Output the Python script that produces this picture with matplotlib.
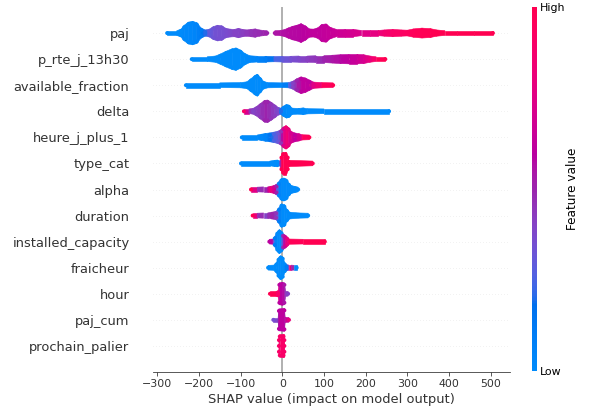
import numpy as np
import matplotlib
matplotlib.use("Agg")
import matplotlib.pyplot as plt
from matplotlib.colors import LinearSegmentedColormap
from matplotlib.collections import PolyCollection
from matplotlib.cm import ScalarMappable

# ---------------- data ----------------
features = ["paj", "p_rte_j_13h30", "available_fraction", "delta", "heure_j_plus_1",
            "type_cat", "alpha", "duration", "installed_capacity", "fraicheur",
            "hour", "paj_cum", "prochain_palier"]

# each feature: SHAP value nodes, swarm half-height (rows), mean feature value (0=low, 1=high)
paj_shap = [-276, -253, -243, -235, -225, -215, -205, -195, -185, -175, -165, -155, -145, -135,
            -125, -115, -105, -95, -85, -75, -65, -55, -45, -36, np.nan,
            -18, -5, 5, 15, 25, 35, 45, 55, 65, 75, 85, 95, 105, 115, 130, 150, 170, 190, 210,
            230, 245, 265, 285, 300, 315, 335, 355, 370, 390, 420, 460, 505]
paj_width = [0.09, 0.09, 0.15, 0.3, 0.42, 0.45, 0.4, 0.2, 0.12, 0.15, 0.25, 0.3, 0.28, 0.18,
             0.15, 0.14, 0.18, 0.14, 0.12, 0.14, 0.16, 0.12, 0.1, 0.09, np.nan,
             0.09, 0.1, 0.13, 0.2, 0.26, 0.3, 0.36, 0.28, 0.16, 0.15, 0.2, 0.33, 0.35, 0.22, 0.14,
             0.14, 0.14, 0.1, 0.1, 0.1, 0.12, 0.14, 0.12, 0.11, 0.16, 0.19, 0.17, 0.12, 0.09,
             0.09, 0.09, 0.09]
paj_value = [0.0, 0.0, 0.0, 0.02, 0.02, 0.03, 0.05, 0.1, 0.2, 0.3, 0.33, 0.35, 0.35, 0.36,
             0.38, 0.4, 0.4, 0.42, 0.44, 0.46, 0.47, 0.48, 0.5, 0.5, np.nan,
             0.55, 0.56, 0.57, 0.58, 0.58, 0.58, 0.59, 0.6, 0.61, 0.62, 0.62, 0.62, 0.63, 0.64,
             0.66, 0.68, 0.7, 0.73, 0.76, 0.8, 0.86, 0.9, 0.92, 0.94, 0.96, 0.98, 0.99, 1.0,
             1.0, 1.0, 1.0, 1.0]

p_rte_shap = [-217, -180, -160, -148, -135, -120, -111, -100, -90, -78, -60, -40, -20, 0, 20,
              40, 60, 80, 100, 120, 140, 160, 180, 195, 210, 225, 247]
p_rte_width = [0.09, 0.09, 0.12, 0.2, 0.3, 0.4, 0.43, 0.35, 0.22, 0.13, 0.11, 0.11, 0.1, 0.11,
               0.11, 0.12, 0.12, 0.13, 0.13, 0.15, 0.17, 0.18, 0.18, 0.17, 0.12, 0.09, 0.09]
p_rte_value = [0.0, 0.0, 0.0, 0.0, 0.0, 0.0, 0.0, 0.0, 0.0, 0.02, 0.05, 0.1, 0.2, 0.3, 0.35,
               0.38, 0.42, 0.45, 0.5, 0.55, 0.58, 0.62, 0.66, 0.7, 0.8, 0.95, 1.0]

avail_shap = [-231, -150, -100, -85, -75, -65, -60, -53, -45, -35, 0, 15, 25, 35, 45, 55, 65,
              75, 95, 122]
avail_width = [0.09, 0.09, 0.1, 0.13, 0.25, 0.38, 0.42, 0.3, 0.15, 0.1, 0.09, 0.1, 0.15, 0.25,
               0.32, 0.28, 0.2, 0.12, 0.1, 0.09]
avail_value = [0.0, 0.0, 0.0, 0.0, 0.0, 0.0, 0.0, 0.0, 0.0, 0.0, 0.05, 0.15, 0.4, 0.5, 0.6,
               0.62, 0.6, 0.75, 0.9, 1.0]

delta_shap = [-92, -80, -70, -62, -52, -42, -35, -27, -18, -10, -3, 3, 10, 16, 24, 40, 50, 60,
              100, 256]
delta_width = [0.09, 0.09, 0.11, 0.18, 0.3, 0.42, 0.43, 0.35, 0.25, 0.15, 0.12, 0.2, 0.26, 0.24,
               0.12, 0.11, 0.13, 0.1, 0.09, 0.09]
delta_value = [0.9, 0.5, 0.4, 0.42, 0.45, 0.5, 0.5, 0.45, 0.42, 0.38, 0.2, 0.02, 0.0, 0.0, 0.0,
               0.0, 0.0, 0.0, 0.0, 0.0]

heure_shap = [-97, -60, -50, -40, -30, -20, -10, -3, 3, 9, 15, 22, 30, 40, 48, 65]
heure_width = [0.09, 0.09, 0.12, 0.15, 0.17, 0.2, 0.24, 0.3, 0.4, 0.45, 0.38, 0.22, 0.17, 0.14,
               0.1, 0.09]
heure_value = [0.0, 0.0, 0.02, 0.05, 0.15, 0.25, 0.32, 0.45, 0.7, 0.85, 0.8, 0.7, 0.62, 0.7,
               0.9, 1.0]

type_shap = [-99, -30, -18, -12, -6, -2, 2, 8, 13, 16, 73]
type_width = [0.09, 0.09, 0.12, 0.13, 0.09, 0.3, 0.43, 0.43, 0.3, 0.12, 0.09]
type_value = [0.0, 0.0, 0.0, 0.0, 0.0, 1.0, 1.0, 1.0, 1.0, 1.0, 1.0]

alpha_shap = [-75, -60, -45, -35, -28, -20, -14, -8, -2, 4, 10, 16, 22, 30, 38]
alpha_width = [0.09, 0.09, 0.1, 0.1, 0.12, 0.15, 0.2, 0.3, 0.42, 0.44, 0.4, 0.25, 0.15, 0.12,
               0.09]
alpha_value = [1.0, 0.5, 0.45, 0.55, 0.8, 0.7, 0.5, 0.05, 0.0, 0.0, 0.0, 0.0, 0.0, 0.0, 0.0]

duration_shap = [-71, -60, -45, -35, -25, -15, -8, -2, 5, 11, 18, 40, 62]
duration_width = [0.09, 0.09, 0.1, 0.1, 0.13, 0.16, 0.3, 0.45, 0.42, 0.25, 0.13, 0.1, 0.09]
duration_value = [1.0, 0.6, 0.35, 0.45, 0.5, 0.45, 0.1, 0.0, 0.0, 0.0, 0.0, 0.0, 0.0]

capacity_shap = [-31, -22, -18, -12, -7, -2, 2, 7, 12, 16, 50, 102]
capacity_width = [0.09, 0.1, 0.2, 0.38, 0.46, 0.4, 0.3, 0.25, 0.18, 0.1, 0.09, 0.09]
capacity_value = [0.6, 0.6, 0.1, 0.0, 0.0, 0.0, 0.5, 0.65, 0.8, 0.95, 1.0, 1.0]

fraicheur_shap = [-34, -20, -14, -9, -4, 1, 6, 10, 16, 22, 28, 34.5]
fraicheur_width = [0.09, 0.1, 0.2, 0.38, 0.46, 0.42, 0.2, 0.12, 0.1, 0.1, 0.09, 0.09]
fraicheur_value = [0.0, 0.0, 0.0, 0.0, 0.0, 0.0, 0.0, 0.1, 0.7, 0.9, 0.1, 0.0]

hour_shap = [-29.5, -15, -10, -7, 0, 5, 8, 14]
hour_width = [0.09, 0.09, 0.12, 0.42, 0.44, 0.42, 0.1, 0.09]
hour_value = [1.0, 1.0, 0.9, 0.6, 0.6, 0.55, 0.45, 0.4]

paj_cum_shap = [-21.5, -10, -8, 5, 7, 16]
paj_cum_width = [0.09, 0.09, 0.42, 0.44, 0.1, 0.09]
paj_cum_value = [0.35, 0.4, 0.6, 0.62, 0.5, 0.8]

palier_shap = [-8, -6, 3, 5]
palier_width = [0.3, 0.44, 0.44, 0.3]
palier_value = [0.9, 0.9, 0.9, 0.9]

xticks = [-300, -200, -100, 0, 100, 200, 300, 400, 500]

swarms = [
    (paj_shap, paj_width, paj_value),
    (p_rte_shap, p_rte_width, p_rte_value),
    (avail_shap, avail_width, avail_value),
    (delta_shap, delta_width, delta_value),
    (heure_shap, heure_width, heure_value),
    (type_shap, type_width, type_value),
    (alpha_shap, alpha_width, alpha_value),
    (duration_shap, duration_width, duration_value),
    (capacity_shap, capacity_width, capacity_value),
    (fraicheur_shap, fraicheur_width, fraicheur_value),
    (hour_shap, hour_width, hour_value),
    (paj_cum_shap, paj_cum_width, paj_cum_value),
    (palier_shap, palier_width, palier_value),
]

# ---------------- SHAP red_blue colormap (LCH interpolation) ----------------
def lch2rgb(L, C, H):
    a = C * np.cos(H)
    b = C * np.sin(H)
    fy = (L + 16) / 116.0
    fx = fy + a / 500.0
    fz = fy - b / 200.0
    def finv(t):
        return np.where(t > 6 / 29, t ** 3, 3 * (6 / 29) ** 2 * (t - 4 / 29))
    X = 0.95047 * finv(fx)
    Y = 1.0 * finv(fy)
    Z = 1.08883 * finv(fz)
    r = 3.2406 * X - 1.5372 * Y - 0.4986 * Z
    g = -0.9689 * X + 1.8758 * Y + 0.0415 * Z
    bb = 0.0557 * X - 0.2040 * Y + 1.0570 * Z
    rgb = np.array([r, g, bb])
    rgb = np.where(rgb <= 0.0031308, 12.92 * rgb, 1.055 * np.abs(rgb) ** (1 / 2.4) - 0.055)
    return np.clip(rgb, 0, 1)

blue_lch = [54.0, 70.0, 4.6588]
red_lch = [54.0, 90.0, 0.35470565 + 2 * np.pi]
l_mid = 40.0
nsteps = 100
l_vals = list(np.linspace(blue_lch[0], l_mid, nsteps // 2)) + list(np.linspace(l_mid, red_lch[0], nsteps // 2))
c_vals = np.linspace(blue_lch[1], red_lch[1], nsteps)
h_vals = np.linspace(blue_lch[2], red_lch[2], nsteps)
cols = [lch2rgb(l, c, h) for l, c, h in zip(l_vals, c_vals, h_vals)]
red_blue = LinearSegmentedColormap.from_list("red_blue", cols)

# ---------------- figure ----------------
W, H = 594, 416
fig = plt.figure(figsize=(W / 72, H / 72), dpi=72)
ax = fig.add_axes([153 / W, 44 / H, (510 - 153) / W, (409 - 44) / H])

axis_color = "#333333"
n = len(features)
dot_r = 0.077  # dot radius in row units
for i, (xs, ws, vs) in enumerate(swarms):
    row = n - 1 - i
    ax.axhline(y=row, color="#cccccc", lw=0.5, dashes=(1, 5), zorder=-1)
    xs = np.asarray(xs, float)
    ws = np.asarray(ws, float)
    vs = np.asarray(vs, float)
    polys, colors = [], []
    for j in range(len(xs) - 1):
        if np.isnan(xs[j]) or np.isnan(xs[j + 1]):
            continue
        polys.append([(xs[j], row - ws[j]), (xs[j + 1], row - ws[j + 1]),
                      (xs[j + 1], row + ws[j + 1]), (xs[j], row + ws[j])])
        colors.append(red_blue((vs[j] + vs[j + 1]) / 2))
    pc = PolyCollection(polys, facecolors=colors, edgecolors=colors, linewidths=0.6, zorder=2)
    ax.add_collection(pc)
    # dots on the outline of the swarm (texture like individual points)
    ok = ~np.isnan(xs)
    edge = ok & (ws > 0.1)
    ex = np.concatenate([xs[edge], xs[edge]])
    ey = np.concatenate([row + ws[edge] - dot_r, row - ws[edge] + dot_r])
    ev = np.concatenate([vs[edge], vs[edge]])
    ax.scatter(ex, ey, s=16, c=ev, cmap=red_blue, vmin=0, vmax=1, linewidth=0, zorder=3)
    # rounded ends of each run
    ends = []
    for j in range(len(xs)):
        if not ok[j]:
            continue
        first = j == 0 or not ok[j - 1]
        last = j == len(xs) - 1 or not ok[j + 1]
        if first or last:
            ends.append(j)
    ends = np.array(ends)
    ax.scatter(xs[ends], np.full(len(ends), row), s=16, c=vs[ends], cmap=red_blue,
               vmin=0, vmax=1, linewidth=0, zorder=3)

ax.axvline(x=0, color="#999999", zorder=-1)

ax.set_xlim(-310, 546)
ax.set_ylim(-1, n)
ax.set_xticks(xticks)
ax.set_yticks(range(n))
ax.set_yticklabels(features[::-1], fontsize=13)
ax.xaxis.set_ticks_position("bottom")
ax.yaxis.set_ticks_position("none")
for s in ["right", "top", "left"]:
    ax.spines[s].set_visible(False)
ax.spines["bottom"].set_color(axis_color)
ax.tick_params(color=axis_color, labelcolor=axis_color)
ax.tick_params("y", length=20, width=0.5, which="major")
ax.tick_params("x", labelsize=11)
ax.set_xlabel("SHAP value (impact on model output)", fontsize=13, color="#333333")

cax = fig.add_axes([532 / W, 45 / H, 4.5 / W, 364 / H])
sm = ScalarMappable(cmap=red_blue)
sm.set_array([0, 1])
cb = fig.colorbar(sm, cax=cax, ticks=[0, 1])
cb.set_ticklabels(["Low", "High"])
cb.set_label("Feature value", size=12, labelpad=0)
cb.ax.tick_params(labelsize=11, length=0)
cb.outline.set_visible(False)

fig.savefig("out.png", dpi=72)
